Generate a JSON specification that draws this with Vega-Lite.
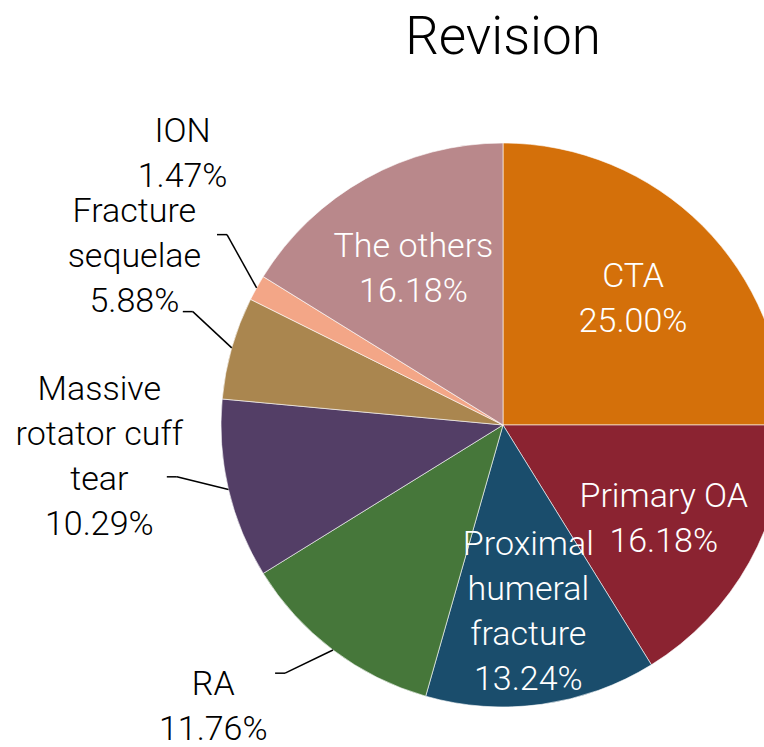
{
  "$schema": "https://vega.github.io/schema/vega-lite/v6.json",
  "autosize": "none",
  "width": 564,
  "height": 564,
  "padding": {"left": 221, "top": 143, "right": 0, "bottom": 40},
  "background": "white",
  "title": {"text": "Revision", "fontSize": 53, "font": "Roboto", "fontWeight": 300, "color": "#000000", "anchor": "middle", "baseline": "alphabetic", "offset": 8},
  "data": {"values": [
    {"ord": 1, "category": "CTA", "share": 25.00, "label": "CTA\n25.00%"},
    {"ord": 2, "category": "Primary OA", "share": 16.18, "label": "Primary OA\n16.18%"},
    {"ord": 3, "category": "Proximal humeral fracture", "share": 13.24, "label": "Proximal\nhumeral\nfracture\n13.24%"},
    {"ord": 4, "category": "RA", "share": 11.76, "label": "RA\n11.76%"},
    {"ord": 5, "category": "Massive rotator cuff tear", "share": 10.29, "label": "Massive\nrotator cuff\ntear\n10.29%"},
    {"ord": 6, "category": "Fracture sequelae", "share": 5.88, "label": "Fracture\nsequelae\n5.88%"},
    {"ord": 7, "category": "ION", "share": 1.47, "label": "ION\n1.47%"},
    {"ord": 8, "category": "The others", "share": 16.18, "label": "The others\n16.18%"}
  ]},
  "transform": [
    {"stack": "share", "groupby": [], "sort": [{"field": "ord", "order": "ascending"}], "as": ["s0", "s1"]}
  ],
  "layer": [
    {
      "mark": {"type": "arc", "radius": 282, "stroke": "#ffffff", "strokeWidth": 0.6},
      "encoding": {
        "theta": {"field": "s0", "type": "quantitative", "stack": null, "scale": {"domain": [0, 100]}},
        "theta2": {"field": "s1"},
        "color": {"field": "category", "type": "nominal", "legend": null,
          "scale": {"domain": ["CTA", "Primary OA", "Proximal humeral fracture", "RA", "Massive rotator cuff tear", "Fracture sequelae", "ION", "The others"],
                    "range": ["#D4700A", "#8B2331", "#1A4D6C", "#46773A", "#533E66", "#AA864F", "#F3A687", "#B9888B"]}}
      }
    },
    {
      "transform": [{"filter": "datum.share >= 13"}],
      "mark": {"type": "text", "radius": 184, "thetaOffset": {"expr": "(datum.s1 - datum.s0) * PI / 100"}, "dy": {"expr": "5 - (length(split(datum.label, '\\n')) - 1) * 22.5"}, "font": "Roboto", "fontWeight": 300, "fontSize": 34, "lineHeight": 45, "lineBreak": "\n", "color": "#ffffff", "align": "center", "baseline": "middle"},
      "encoding": {
        "theta": {"field": "s0", "type": "quantitative", "stack": null},
        "text": {"field": "label", "type": "nominal"}
      }
    },
    {
      "transform": [{"filter": "datum.share < 13"}],
      "mark": {"type": "text", "radius": 405, "thetaOffset": {"expr": "(datum.s1 - datum.s0) * PI / 100 + 0.15"}, "dy": {"expr": "cos(PI * (datum.s0 + datum.s1) / 100) > 0.4 ? -(length(split(datum.label, '\\n')) - 1) * 45 : -(length(split(datum.label, '\\n')) - 1) * 22.5"}, "font": "Roboto", "fontWeight": 300, "fontSize": 34, "lineHeight": 45, "lineBreak": "\n", "color": "#000000", "align": "center", "baseline": "middle"},
      "encoding": {
        "theta": {"field": "s0", "type": "quantitative", "stack": null},
        "text": {"field": "label", "type": "nominal"}
      }
    },
    {
      "transform": [{"filter": "datum.share < 13"}],
      "mark": {"type": "rule", "color": "#000000", "strokeWidth": 1.5},
      "encoding": {
        "x": {"value": {"expr": "width / 2 + 282 * sin(PI * (datum.s0 + datum.s1) / 100)"}},
        "y": {"value": {"expr": "height / 2 - 282 * cos(PI * (datum.s0 + datum.s1) / 100)"}},
        "x2": {"value": {"expr": "width / 2 + 282 * sin(PI * (datum.s0 + datum.s1) / 100) + 0.4 * (405 * sin(PI * (datum.s0 + datum.s1) / 100 + 0.15) - 282 * sin(PI * (datum.s0 + datum.s1) / 100))"}},
        "y2": {"value": {"expr": "height / 2 - 282 * cos(PI * (datum.s0 + datum.s1) / 100) + 0.4 * (-405 * cos(PI * (datum.s0 + datum.s1) / 100 + 0.15) + (cos(PI * (datum.s0 + datum.s1) / 100) > 0.4 ? -(length(split(datum.label, '\\n')) - 1) * 22.5 : 0) + 282 * cos(PI * (datum.s0 + datum.s1) / 100))"}}
      }
    },
    {
      "transform": [{"filter": "datum.share < 13"}],
      "mark": {"type": "rule", "color": "#000000", "strokeWidth": 1.5},
      "encoding": {
        "x": {"value": {"expr": "width / 2 + 282 * sin(PI * (datum.s0 + datum.s1) / 100) + 0.4 * (405 * sin(PI * (datum.s0 + datum.s1) / 100 + 0.15) - 282 * sin(PI * (datum.s0 + datum.s1) / 100))"}},
        "y": {"value": {"expr": "height / 2 - 282 * cos(PI * (datum.s0 + datum.s1) / 100) + 0.4 * (-405 * cos(PI * (datum.s0 + datum.s1) / 100 + 0.15) + (cos(PI * (datum.s0 + datum.s1) / 100) > 0.4 ? -(length(split(datum.label, '\\n')) - 1) * 22.5 : 0) + 282 * cos(PI * (datum.s0 + datum.s1) / 100))"}},
        "x2": {"value": {"expr": "width / 2 + 282 * sin(PI * (datum.s0 + datum.s1) / 100) + 0.4 * (405 * sin(PI * (datum.s0 + datum.s1) / 100 + 0.15) - 282 * sin(PI * (datum.s0 + datum.s1) / 100)) + (sin(PI * (datum.s0 + datum.s1) / 100) < 0 ? -10 : 10)"}},
        "y2": {"value": {"expr": "height / 2 - 282 * cos(PI * (datum.s0 + datum.s1) / 100) + 0.4 * (-405 * cos(PI * (datum.s0 + datum.s1) / 100 + 0.15) + (cos(PI * (datum.s0 + datum.s1) / 100) > 0.4 ? -(length(split(datum.label, '\\n')) - 1) * 22.5 : 0) + 282 * cos(PI * (datum.s0 + datum.s1) / 100))"}}
      }
    }
  ],
  "config": {"view": {"stroke": null}}
}
